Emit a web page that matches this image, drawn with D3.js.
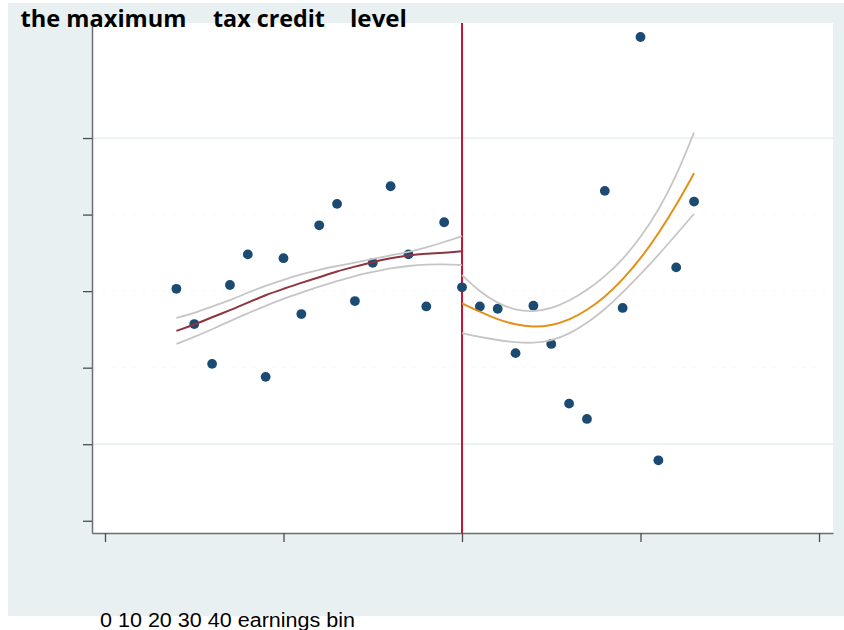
<!DOCTYPE html>
<html lang="en">
<head>
    <meta charset="utf-8">
    <title>Earnings bin scatter with fits</title>
    <script type="text/javascript" src="https://cdn.jsdelivr.net/npm/d3@7/dist/d3.min.js"></script>
    <style>
        body { margin: 0; background: #ffffff; }
        svg { display: block; }
    </style>
</head>
<body>
<div id="chart"></div>
<script type="text/javascript">
    // bins and binned means
    var bins = [4, 5, 6, 7, 8, 9, 10, 11, 12, 13, 14, 15, 16, 17, 18, 19, 20,
        21, 22, 23, 24, 25, 26, 27, 28, 29, 30, 31, 32, 33];
    var binMeans = [3.03, 2.57, 2.05, 3.08, 3.48, 1.88, 3.43, 2.70, 3.86, 4.14, 2.87, 3.37, 4.37, 3.48, 2.80, 3.90, 3.05,
        2.80, 2.77, 2.19, 2.81, 2.31, 1.53, 1.33, 4.31, 2.78, 6.32, 0.79, 3.31, 4.17];

    // fitted line + confidence band, left of the cutoff (bins 4..20)
    var leftBins = [4, 5, 6, 7, 8, 9, 10, 11, 12, 13, 14, 15, 16, 17, 18, 19, 20];
    var leftFit = [2.48, 2.56, 2.66, 2.75, 2.85, 2.95, 3.03, 3.11, 3.18, 3.26, 3.32, 3.38, 3.43, 3.47, 3.49, 3.50, 3.52];
    var leftUpper = [2.65, 2.71, 2.80, 2.88, 2.98, 3.07, 3.15, 3.22, 3.28, 3.33, 3.37, 3.42, 3.47, 3.51, 3.57, 3.64, 3.72];
    var leftLower = [2.31, 2.40, 2.50, 2.61, 2.71, 2.81, 2.90, 2.98, 3.06, 3.13, 3.20, 3.25, 3.30, 3.33, 3.35, 3.35, 3.34];

    // right of the cutoff (bins 20..33)
    var rightBins = [20, 21, 22, 23, 24, 25, 26, 27, 28, 29, 30, 31, 32, 33];
    var rightFit = [2.84, 2.73, 2.63, 2.56, 2.53, 2.55, 2.62, 2.75, 2.92, 3.15, 3.42, 3.75, 4.12, 4.54];
    var rightUpper = [3.21, 2.99, 2.84, 2.75, 2.73, 2.77, 2.87, 3.01, 3.19, 3.41, 3.70, 4.05, 4.50, 5.07];
    var rightLower = [2.45, 2.40, 2.36, 2.33, 2.32, 2.35, 2.44, 2.58, 2.76, 2.98, 3.22, 3.47, 3.74, 4.01];

    var cutoff = 20;
    var xTicks = [0, 10, 20, 30, 40];
    var yTicks = [0, 1, 2, 3, 4, 5];
    var titleWords = ["the maximum", "tax credit", "level"];
    var footerText = "0 10 20 30 40 earnings bin";

    var w = 844;
    var h = 630;
    var plot = {left: 92, right: 833, top: 23, bottom: 533};

    var xScale = d3.scaleLinear()
        .domain([-0.728, 40.784])
        .range([plot.left, plot.right]);

    var yScale = d3.scaleLinear()
        .domain([-0.16, 6.503])
        .range([plot.bottom, plot.top]);

    var svg = d3.select("#chart")
        .append("svg")
        .attr("width", w)
        .attr("height", h);

    // outer graph region and white plot region
    svg.append("rect")
        .attr("x", 8).attr("y", 3)
        .attr("width", w - 8).attr("height", 613)
        .attr("fill", "#e9f0f2");

    svg.append("rect")
        .attr("x", plot.left).attr("y", plot.top)
        .attr("width", plot.right - plot.left)
        .attr("height", plot.bottom - plot.top)
        .attr("fill", "#ffffff");

    // horizontal grid, only faint
    svg.append("g")
        .selectAll("line")
        .data(yTicks.filter(function (d) { return d > 0; }))
        .enter()
        .append("line")
        .attr("x1", plot.left + 1)
        .attr("x2", plot.right)
        .attr("y1", function (d) { return yScale(d); })
        .attr("y2", function (d) { return yScale(d); })
        .attr("stroke", function (d) { return (d === 1 || d === 5) ? "#e3eaed" : "#f3f6f7"; })
        .attr("stroke-dasharray", function (d) { return (d === 1 || d === 5) ? null : "2,8"; })
        .attr("stroke-width", 1.2);

    // axes without labels
    var xAxis = d3.axisBottom(xScale)
        .tickValues(xTicks)
        .tickSize(9)
        .tickSizeOuter(0)
        .tickFormat("");

    var yAxis = d3.axisLeft(yScale)
        .tickValues(yTicks)
        .tickSize(9)
        .tickSizeOuter(0)
        .tickFormat("");

    var gx = svg.append("g")
        .attr("transform", "translate(0," + plot.bottom + ")")
        .call(xAxis);

    var gy = svg.append("g")
        .attr("transform", "translate(" + plot.left + ",0)")
        .call(yAxis);

    [gx, gy].forEach(function (g) {
        g.select(".domain").attr("stroke", "#6b6f72").attr("stroke-width", 1.5);
        g.selectAll(".tick line").attr("stroke", "#4a4d50").attr("stroke-width", 1.3);
    });

    // cutoff line
    svg.append("line")
        .attr("x1", xScale(cutoff)).attr("x2", xScale(cutoff))
        .attr("y1", plot.top).attr("y2", plot.bottom)
        .attr("stroke", "#cc1236")
        .attr("stroke-width", 2);

    // binned means
    svg.append("g")
        .selectAll("circle")
        .data(bins)
        .enter()
        .append("circle")
        .attr("cx", function (d) { return xScale(d); })
        .attr("cy", function (d, i) { return yScale(binMeans[i]); })
        .attr("r", 4.9)
        .attr("fill", "#1b4a73");

    function drawLine(xs, ys, color, width) {
        var line = d3.line()
            .x(function (d) { return xScale(d); })
            .y(function (d, i) { return yScale(ys[i]); })
            .curve(d3.curveBasis);
        svg.append("path")
            .datum(xs)
            .attr("d", line)
            .attr("fill", "none")
            .attr("stroke", color)
            .attr("stroke-width", width);
    }

    drawLine(leftBins, leftUpper, "#c6c6c6", 1.8);
    drawLine(leftBins, leftLower, "#c6c6c6", 1.8);
    drawLine(leftBins, leftFit, "#8e3440", 2);
    drawLine(rightBins, rightUpper, "#c6c6c6", 1.8);
    drawLine(rightBins, rightLower, "#c6c6c6", 1.8);
    drawLine(rightBins, rightFit, "#e39015", 2);

    // title words, spaced like the picture
    var titleX = [20.5, 213, 350];
    var titleLen = [166, 112, 57];
    svg.append("g")
        .selectAll("text")
        .data(titleWords)
        .enter()
        .append("text")
        .attr("x", function (d, i) { return titleX[i]; })
        .attr("y", 27)
        .attr("textLength", function (d, i) { return titleLen[i]; })
        .attr("lengthAdjust", "spacingAndGlyphs")
        .attr("font-family", "'Open Sans', Lato, sans-serif")
        .attr("font-weight", "bold")
        .attr("font-size", 23)
        .attr("fill", "#000000")
        .text(function (d) { return d; });

    svg.append("text")
        .attr("x", 100)
        .attr("y", 627)
        .attr("textLength", 255)
        .attr("lengthAdjust", "spacingAndGlyphs")
        .attr("font-family", "'Liberation Sans', Arial, sans-serif")
        .attr("font-size", 19.5)
        .attr("fill", "#000000")
        .text(footerText);
</script>
</body>
</html>
